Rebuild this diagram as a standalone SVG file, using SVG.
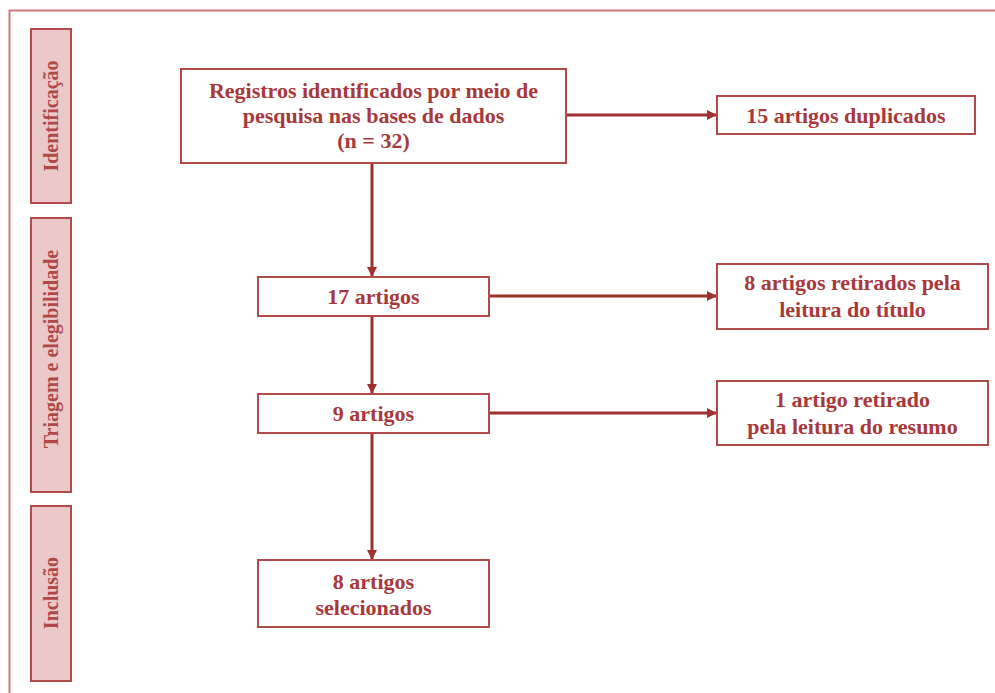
<svg xmlns="http://www.w3.org/2000/svg" width="995" height="693" viewBox="0 0 995 693">
<defs>
<style>
.box{fill:#ffffff;stroke:#b34a4a;stroke-width:2}
.side{fill:#ecc9c9;stroke:#b34a4a;stroke-width:2}
.t{font-family:"Liberation Serif","Times New Roman",serif;font-size:22px;font-weight:bold;fill:#a8383a;text-anchor:middle}
.st{font-family:"Liberation Serif","Times New Roman",serif;font-size:20px;font-weight:bold;fill:#b04848;text-anchor:middle}
.c{stroke:#a02f2f;stroke-width:3;fill:none}
</style>
<marker id="ah" markerWidth="10" markerHeight="10" viewBox="0 0 10 10" refX="10" refY="5" orient="auto" markerUnits="userSpaceOnUse">
<path d="M0,0 L10,5 L0,10 z" fill="#a02f2f"/>
</marker>
</defs>
<rect width="995" height="693" fill="#ffffff"/>
<path d="M9.5,693 V10.5 H995" fill="none" stroke="#c97a7a" stroke-width="2"/>
<g id="phase-identificacao">
<rect class="side" x="31" y="29" width="40" height="174"/>
<text class="st" transform="translate(51 116) rotate(-90)" y="7">Identificação</text>
</g>
<g id="phase-triagem">
<rect class="side" x="31" y="218" width="40" height="274"/>
<text class="st" transform="translate(51 349) rotate(-90)" y="7">Triagem e elegibilidade</text>
</g>
<g id="phase-inclusao">
<rect class="side" x="31" y="506" width="40" height="175"/>
<text class="st" transform="translate(51 593) rotate(-90)" y="7">Inclusão</text>
</g>
<g id="connectors">
<line class="c" x1="372" y1="163" x2="372" y2="277" marker-end="url(#ah)"/>
<line class="c" x1="372" y1="316" x2="372" y2="394" marker-end="url(#ah)"/>
<line class="c" x1="372" y1="433" x2="372" y2="560" marker-end="url(#ah)"/>
<line class="c" x1="566" y1="115" x2="717" y2="115" marker-end="url(#ah)"/>
<line class="c" x1="489" y1="296" x2="717" y2="296" marker-end="url(#ah)"/>
<line class="c" x1="489" y1="413" x2="717" y2="413" marker-end="url(#ah)"/>
</g>
<g id="registros">
<rect class="box" x="181" y="69" width="385" height="94"/>
<text class="t" x="373.5" y="98">Registros identificados por meio de</text>
<text class="t" x="373.5" y="123">pesquisa nas bases de dados</text>
<text class="t" x="373.5" y="148">(n = 32)</text>
</g>
<g id="duplicados">
<rect class="box" x="717" y="96" width="258" height="38"/>
<text class="t" x="846" y="122.5">15 artigos duplicados</text>
</g>
<g id="a17">
<rect class="box" x="258" y="277" width="231" height="39"/>
<text class="t" x="373.5" y="304">17 artigos</text>
</g>
<g id="retirados-titulo">
<rect class="box" x="717" y="264" width="271" height="65"/>
<text class="t" x="852.5" y="290">8 artigos retirados pela</text>
<text class="t" x="852.5" y="317">leitura do título</text>
</g>
<g id="a9">
<rect class="box" x="258" y="394" width="231" height="39"/>
<text class="t" x="373.5" y="421">9 artigos</text>
</g>
<g id="retirado-resumo">
<rect class="box" x="717" y="381" width="271" height="64"/>
<text class="t" x="852.5" y="407">1 artigo retirado</text>
<text class="t" x="852.5" y="434">pela leitura do resumo</text>
</g>
<g id="selecionados">
<rect class="box" x="258" y="560" width="231" height="67"/>
<text class="t" x="373.5" y="589">8 artigos</text>
<text class="t" x="373.5" y="615">selecionados</text>
</g>
</svg>
